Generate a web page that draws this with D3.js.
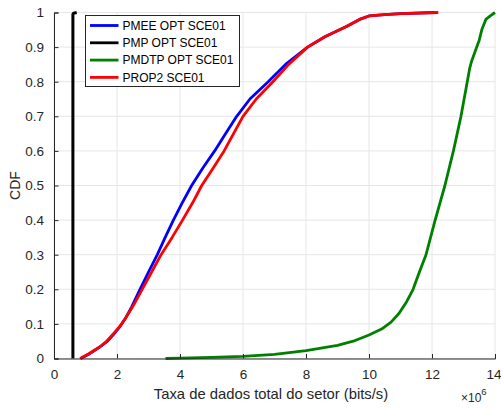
<!DOCTYPE html>
<html>
<head>
<meta charset="utf-8">
<script src="https://cdn.jsdelivr.net/npm/d3@7"></script>
<style>
  html, body { margin: 0; padding: 0; background: #fff; }
  svg { display: block; font-family: "Liberation Sans", Arial, Helvetica, sans-serif; }
</style>
</head>
<body>
<svg id="chart" width="501" height="408"></svg>
<script>
// Sector throughput (in units of 10^6 bits/s) against cumulative probability
const seriesNames = ["PMEE OPT SCE01", "PMP OPT SCE01", "PMDTP OPT SCE01", "PROP2 SCE01"];
const seriesColors = ["#0000ff", "#000000", "#008000", "#ff0000"];

const pmeeX = [0.85, 1.1, 1.45, 1.7, 1.95, 2.1, 2.28, 2.47, 2.73, 3.0, 3.28, 3.53, 3.79, 4.07, 4.37, 4.72, 5.1, 5.45, 5.8, 6.22, 6.8, 7.35, 8.05, 8.6, 9.3, 9.7, 10.0, 10.5, 11.0, 12.1];
const pmeeY = [0, 0.012, 0.033, 0.05, 0.076, 0.093, 0.118, 0.15, 0.2, 0.25, 0.3, 0.35, 0.4, 0.45, 0.5, 0.55, 0.6, 0.65, 0.7, 0.75, 0.8, 0.85, 0.9, 0.93, 0.96, 0.98, 0.99, 0.994, 0.997, 1.0];

const pmpX = [0.6, 0.6, 0.62, 0.72];
const pmpY = [0, 0.995, 0.998, 1.0];

const pmdtpX = [3.54, 4.0, 5.0, 6.0, 7.0, 8.0, 9.0, 9.5, 10.0, 10.4, 10.7, 10.95, 11.2, 11.4, 11.6, 11.81, 12.1, 12.41, 12.68, 12.92, 13.12, 13.2, 13.26, 13.42, 13.5, 13.58, 13.71, 13.85, 14.0];
const pmdtpY = [0, 0.001, 0.003, 0.006, 0.012, 0.023, 0.038, 0.05, 0.068, 0.085, 0.105, 0.13, 0.165, 0.2, 0.25, 0.3, 0.4, 0.5, 0.6, 0.7, 0.8, 0.84, 0.86, 0.9, 0.92, 0.95, 0.98, 0.99, 1.0];

const prop2X = [0.83, 1.09, 1.46, 1.67, 1.94, 2.1, 2.28, 2.5, 2.8, 3.1, 3.4, 3.75, 4.08, 4.4, 4.69, 5.05, 5.4, 5.7, 6.0, 6.42, 6.95, 7.45, 8.05, 8.6, 9.3, 9.7, 10.0, 10.5, 11.0, 12.2];
const prop2Y = [0, 0.013, 0.034, 0.05, 0.077, 0.094, 0.118, 0.15, 0.2, 0.25, 0.3, 0.35, 0.4, 0.45, 0.5, 0.55, 0.6, 0.65, 0.7, 0.75, 0.8, 0.85, 0.9, 0.93, 0.96, 0.98, 0.99, 0.994, 0.997, 1.0];

const xTicks = [0, 2, 4, 6, 8, 10, 12, 14];
const yTicks = [0, 0.1, 0.2, 0.3, 0.4, 0.5, 0.6, 0.7, 0.8, 0.9, 1];

const seriesX = [pmeeX, pmpX, pmdtpX, prop2X];
const seriesY = [pmeeY, pmpY, pmdtpY, prop2Y];

const margin = { left: 54, right: 6, top: 12.5, bottom: 49.5 };
const W = 501, H = 408;
const svg = d3.select("#chart");

const x = d3.scaleLinear().domain([0, 14]).range([margin.left, W - margin.right]);
const y = d3.scaleLinear().domain([0, 1]).range([H - margin.bottom, margin.top]);

const axisColor = "#262626";

// grid
const grid = svg.append("g");
grid.selectAll("line.gx").data(xTicks).join("line")
  .attr("x1", d => x(d)).attr("x2", d => x(d))
  .attr("y1", y(0)).attr("y2", y(1))
  .attr("stroke", "#e6e6e6").attr("stroke-width", 1);
grid.selectAll("line.gy").data(yTicks).join("line")
  .attr("x1", x(0)).attr("x2", x(14))
  .attr("y1", d => y(d)).attr("y2", d => y(d))
  .attr("stroke", "#e6e6e6").attr("stroke-width", 1);

// series
const line = d3.line().x(d => x(d[0])).y(d => y(d[1]));
const widths = [2.8, 3, 2.8, 2.8];
seriesNames.forEach((name, i) => {
  const pts = seriesX[i].map((v, j) => [v, seriesY[i][j]]);
  svg.append("path")
    .datum(pts)
    .attr("d", line)
    .attr("fill", "none")
    .attr("stroke", seriesColors[i])
    .attr("stroke-width", widths[i])
    .attr("stroke-linejoin", "round");
});

// axes (inward ticks)
const xAxis = d3.axisBottom(x).tickValues(xTicks).tickSize(-4.5).tickPadding(11).tickFormat(d3.format("d"));
const yAxis = d3.axisLeft(y).tickValues(yTicks).tickSize(-4.5).tickPadding(10)
  .tickFormat(d => d === 0 || d === 1 ? String(d) : d3.format(".1f")(d));

const gx = svg.append("g").attr("transform", `translate(0,${y(0)})`).call(xAxis);
const gy = svg.append("g").attr("transform", `translate(${x(0)},0)`).call(yAxis);
[gx, gy].forEach(g => {
  g.select(".domain").attr("stroke", axisColor).attr("stroke-width", 1);
  g.selectAll(".tick line").attr("stroke", axisColor);
  g.selectAll(".tick text").attr("fill", axisColor).style("font-size", "13.5px")
    .style("font-family", "'Liberation Sans', Arial, sans-serif");
});
gx.selectAll(".tick text").filter(d => d === 14).attr("dx", -1.5);

// axis labels
svg.append("text")
  .attr("x", 271).attr("y", 399)
  .attr("text-anchor", "middle")
  .attr("fill", axisColor).style("font-size", "14.8px")
  .text("Taxa de dados total do setor (bits/s)");

svg.append("text")
  .attr("transform", `translate(20,${(y(0) + y(1)) / 2}) rotate(-90)`)
  .attr("text-anchor", "middle")
  .attr("fill", axisColor).style("font-size", "14px")
  .text("CDF");

// exponent
const ex = svg.append("text").attr("x", 461).attr("y", 401.5).attr("fill", axisColor).style("font-size", "12px");
ex.append("tspan").text("\u00d710");
ex.append("tspan").attr("dy", -7).style("font-size", "9.5px").text("6");

// legend
const lg = svg.append("g").attr("transform", "translate(85.5,15.5)");
lg.append("rect").attr("width", 154).attr("height", 71)
  .attr("fill", "#fff").attr("stroke", axisColor).attr("stroke-width", 1);
seriesNames.forEach((name, i) => {
  const yy = 10 + i * 17.3;
  lg.append("line").attr("x1", 4.5).attr("x2", 33).attr("y1", yy).attr("y2", yy)
    .attr("stroke", seriesColors[i]).attr("stroke-width", 2.8);
  lg.append("text").attr("x", 37).attr("y", yy + 4.3)
    .attr("fill", "#000").style("font-size", "12px").text(name);
});
</script>
</body>
</html>
